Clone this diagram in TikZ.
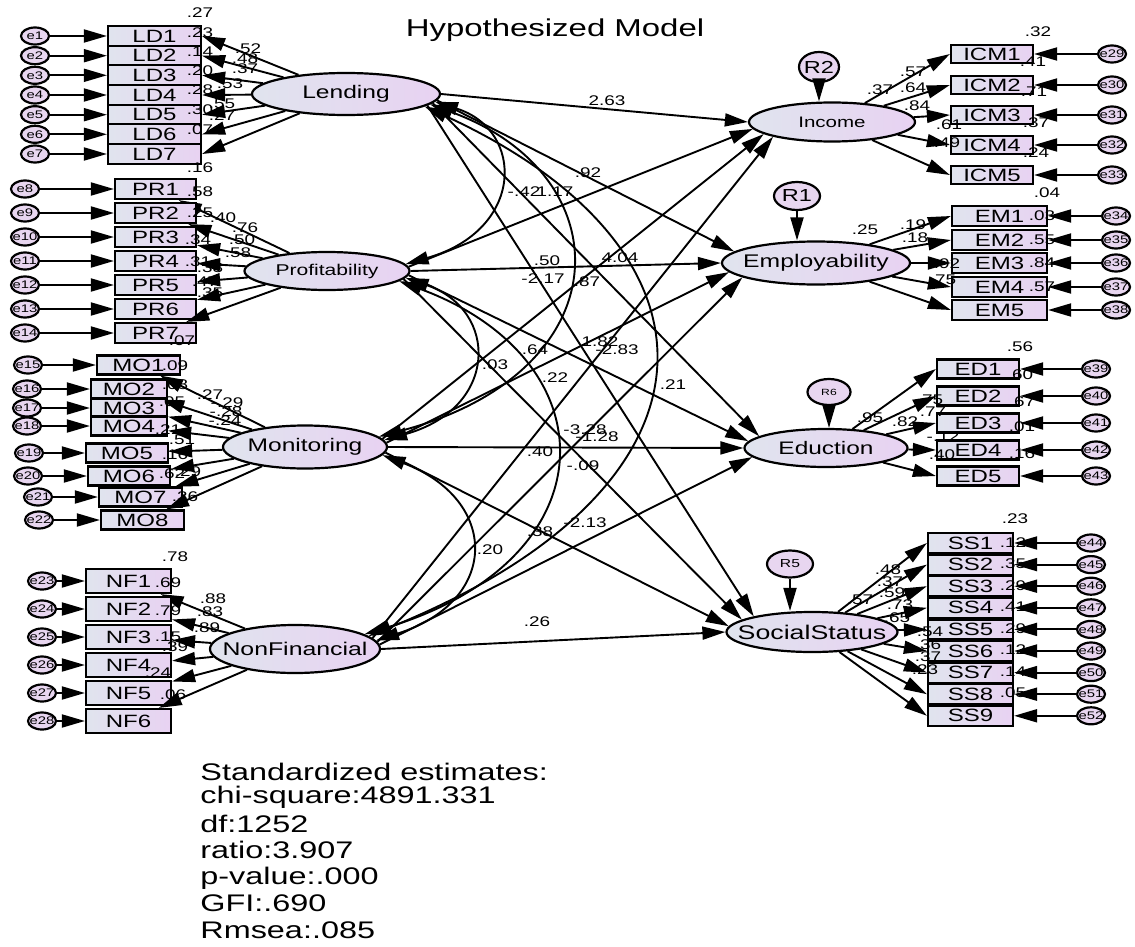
\documentclass[tikz,border=0pt]{standalone}
\usepackage{fontspec}
\setmainfont{Liberation Sans}[FakeStretch=1.35]
\usetikzlibrary{shapes.geometric,arrows.meta}
\definecolor{lc}{RGB}{224,228,238}
\definecolor{rc}{RGB}{232,210,242}
\definecolor{ec}{RGB}{232,214,240}
\newcommand{\fsz}[1]{\fontsize{#1}{#1}\selectfont}
\begin{document}
\begin{tikzpicture}[x=0.5pt,y=-0.5pt,
  arr/.style={line width=0.95pt,-{Triangle[length=11.5pt,width=6.5pt]}},
  cov/.style={line width=0.95pt,{Triangle[length=11.5pt,width=6.5pt]}-{Triangle[length=11.5pt,width=6.5pt]}},
  indbox/.style={draw,line width=1.1pt,left color=lc,right color=rc,inner sep=0pt,font=\fsz{8.9}},
  latent/.style n args={4}{ellipse,draw,line width=1.1pt,left color=lc,right color=rc,inner sep=0pt,
     minimum width=#1,minimum height=#2,label={[font=\fsz{#3},inner sep=0pt]center:#4}},
  err/.style={ellipse,draw,line width=1.1pt,fill=ec,inner sep=0pt,minimum width=14pt,minimum height=8.5pt,
     label={[font=\fsz{5.5},inner sep=0pt]center:#1}},
  resid/.style n args={4}{ellipse,draw,line width=1.1pt,fill=ec,inner sep=0pt,
     minimum width=#1,minimum height=#2,label={[font=\fsz{#3},inner sep=0pt]center:#4}},
  lbl/.style={inner sep=0pt,font=\fsz{7}},
]
\fill[white] (0,0) rectangle (1135,947);
\useasboundingbox (0,0) rectangle (1135,947);

\node[font=\fsz{12.2}] (title) at (555,30) {Hypothesized Model};

% latent variables
\node[latent={94pt}{21pt}{9.1}{Lending}] (L) at (346,94) {};
\node[latent={82.5pt}{19pt}{7.8}{Profitability}] (P) at (327,271) {};
\node[latent={82pt}{21.5pt}{9.1}{Monitoring}] (M) at (305,447) {};
\node[latent={85pt}{24pt}{9.2}{NonFinancial}] (NF) at (295,649) {};
\node[latent={83pt}{19.5pt}{7.6}{Income}] (I) at (832,122) {};
\node[latent={94pt}{21.5pt}{9.15}{Employability}] (EMP) at (816,263) {};
\node[latent={81.5pt}{19pt}{9.05}{Eduction}] (ED) at (826,448) {};
\node[latent={85.5pt}{20pt}{9.9}{SocialStatus}] (SS) at (812,632) {};

% residuals
\node[resid={20pt}{15pt}{8.7}{R2}] (R2) at (819,67) {};
\node[resid={23pt}{14pt}{8.7}{R1}] (R1) at (797,196) {};
\node[resid={21.5pt}{13pt}{4.5}{R6}] (R6) at (829,392) {};
\node[resid={23pt}{13.5pt}{5.8}{R5}] (R5) at (790,564) {};
\draw[arr] (R2) -- (R2 |- I.north);
\draw[arr] (R1) -- (R1 |- EMP.north);
\draw[arr] (R6) -- (R6 |- ED.north);
\draw[arr] (R5) -- (R5 |- SS.north);

% Lending indicators
\foreach \i/\y in {1/36,2/55.7,3/75.3,4/95,5/114.7,6/134.3,7/154}{
  \node[indbox,minimum width=46.5pt,minimum height=10pt] (LD\i) at (154.5,\y) {LD\i};
  \node[err={e\i}] (e\i) at (35,\y) {};
  \draw[arr] (e\i) -- (LD\i);
  \draw[arr] (L) -- (LD\i.east);
}
% Profitability indicators
\foreach \i/\y/\e in {1/189/8,2/213/9,3/237/10,4/261/11,5/285/12,6/309/13,7/333/14}{
  \node[indbox,minimum width=40.5pt,minimum height=10pt] (PR\i) at (155.5,\y) {PR\i};
  \node[err={e\e}] (e\e) at (25,\y) {};
  \draw[arr] (e\e) -- (PR\i);
  \draw[arr] (P) -- (PR\i);
}
% Monitoring indicators
\foreach \i/\x/\y/\w/\ex/\e in {1/138.5/365/41.5pt/28/15,2/129/389/38pt/27/16,3/129/408/38pt/27/17,
   4/129/426/38pt/27/18,5/127/453/41pt/29/19,6/129/476/41pt/28/20,7/140.5/497/41.5pt/38/21,8/142.5/520/41.5pt/39/22}{
  \node[indbox,minimum width=\w,minimum height=9.5pt] (MO\i) at (\x,\y) {MO\i};
  \node[err={e\e}] (e\e) at (\ex,\y) {};
  \draw[arr] (e\e) -- (MO\i);
  \draw[arr] (M) -- (MO\i);
}
% NonFinancial indicators
\foreach \i/\y/\e in {1/581/23,2/609/24,3/637/25,4/665/26,5/693/27,6/721/28}{
  \node[indbox,minimum width=42.5pt,minimum height=12pt] (NF\i) at (128.5,\y) {NF\i};
  \node[err={e\e}] (e\e) at (42,\y) {};
  \draw[arr] (e\e) -- (NF\i);
  \draw[arr] (NF) -- (NF\i);
}
% Income indicators
\foreach \i/\y/\e in {1/54/29,2/85/30,3/115/31,4/145/32,5/175/33}{
  \node[indbox,minimum width=41pt,minimum height=9pt] (ICM\i) at (992,\y) {ICM\i};
  \node[err={e\e}] (e\e) at (1112,\y) {};
  \draw[arr] (e\e) -- (ICM\i);
  \draw[arr] (I) -- (ICM\i.west);
}
% Employability indicators
\foreach \i/\y/\e in {1/216/34,2/240/35,3/263/36,4/287/37,5/310/38}{
  \node[indbox,minimum width=47.5pt,minimum height=10pt] (EM\i) at (999.5,\y) {EM\i};
  \node[err={e\e}] (e\e) at (1116,\y) {};
  \draw[arr] (e\e) -- (EM\i);
  \draw[arr] (EMP) -- (EM\i.west);
}
% Eduction indicators
\foreach \i/\y/\e in {1/369/39,2/396/40,3/423/41,4/450/42,5/476/43}{
  \node[indbox,minimum width=41pt,minimum height=9.5pt] (ED\i) at (978,\y) {ED\i};
  \node[err={e\e}] (e\e) at (1096,\y) {};
  \draw[arr] (e\e) -- (ED\i);
  \draw[arr] (ED) -- (ED\i.west);
}
% SocialStatus indicators
\foreach \i/\y/\e in {1/543/44,2/564.6/45,3/586.2/46,4/607.8/47,5/629.4/48,6/651/49,7/672.6/50,8/694.2/51,9/715.8/52}{
  \node[indbox,minimum width=42.5pt,minimum height=10pt] (SS\i) at (970.5,\y) {SS\i};
  \node[err={e\e}] (e\e) at (1091,\y) {};
  \draw[arr] (e\e) -- (SS\i);
  \draw[arr] (SS) -- (SS\i.west);
}

% structural paths
\draw[arr] (L.east) -- (I.180);
\draw[arr] (L.-4) -- (EMP.172);
\draw[arr] (L.-6) -- (ED.170);
\draw[arr] (L.-8) -- (SS.165);
\draw[arr] (P.3) -- (I.185);
\draw[arr] (P.0) -- (EMP.180);
\draw[arr] (P.-3) -- (ED.175);
\draw[arr] (P.-6) -- (SS.170);
\draw[arr] (M.6) -- (I.190);
\draw[arr] (M.3) -- (EMP.186);
\draw[arr] (M.0) -- (ED.180);
\draw[arr] (M.-4) -- (SS.176);
\draw[arr] (NF.8) -- (I.194);
\draw[arr] (NF.5) -- (EMP.191);
\draw[arr] (NF.3) -- (ED.187);
\draw[arr] (NF.0) -- (SS.180);

% covariances
\draw[cov] (L.-5) .. controls (525,130) and (525,230) .. (P.5);
\draw[cov] (L.-7) .. controls (624,175) and (624,372) .. (M.8);
\draw[cov] (L.-9) .. controls (737,250) and (737,487) .. (NF.10);
\draw[cov] (P.-5) .. controls (499,310) and (499,408) .. (M.5);
\draw[cov] (P.-8) .. controls (612,360) and (612,560) .. (NF.12);
\draw[cov] (M.-6) .. controls (500,500) and (500,601) .. (NF.6);

% estimates
\foreach \t/\x/\y [count=\k] in {
 .27/200/13,.23/200/33,.14/200/52,.20/200/71,.28/200/90,.30/200/110,.07/200/130,.16/200/168,
 .52/248/49,.48/245/59,.37/245/69,.53/230/84,.55/222/104,.27/222/116,
 .58/200/192,.25/200/213,.40/223/218,.76/245/228,.50/242/240,.58/238/253,.34/198/240,.31/198/262,
 .38/210/268,.47/205/282,.35/210/293,.07/182/341,
 .09/175/366,.08/175/385,.27/210/395,-.29/227/403,-.28/226/412,-.24/225/421,.05/172/402,.21/168/430,
 .51/182/440,.16/175/455,.62/172/474,.29/188/472,.36/185/497,
 .78/175/557,.69/168/583,.88/213/599,.83/210/612,.79/168/611,.89/207/628,.15/168/637,.39/175/647,
 .24/158/673,.06/173/695,
 .32/1038/32,.57/913/72,.37/880/90,.64/913/88,.84/917/106,.41/1033/62,.71/1034/92,.61/949/125,
 .37/1036/123,.49/947/143,.24/1036/153,.04/1047/193,
 .25/865/230,.19/913/225,.18/915/238,.03/1042/216,.55/1042/240,.84/1042/263,.57/1042/287,.92/947/264,.75/943/280,
 .56/1020/347,.60/1020/375,.67/1022/402,.01/1022/427,.16/1022/454,.75/930/400,.77/933/412,.95/870/418,
 .82/905/422,-.12/943/437,.40/942/455,
 .23/1015/519,.12/1013/543,.35/1013/564,.29/1013/586,.41/1013/607,.29/1013/629,.12/1013/650,.14/1013/672,
 .05/1013/693,.48/888/570,.37/890/582,.57/860/600,.59/892/593,.73/900/605,.65/897/618,.54/930/632,
 .36/928/645,.37/928/657,.23/925/670,
 2.63/607/101,.92/588/173,-.42/524/192,1.17/555/192,.50/547/261,4.04/620/258,-2.17/543/279,.87/587/282,
 .64/535/350,.03/495/365,1.82/600/342,-2.83/617/350,.22/555/378,.21/673/385,-3.28/585/430,-1.28/597/437,
 .40/540/452,-.09/583/466,-2.13/585/523,.38/540/532,.20/490/550,.26/537/622}{
  \node[lbl] (n\k) at (\x,\y) {\t};
}

% fit statistics
\foreach \t/\y [count=\k] in {Standardized estimates:/772,chi-square:4891.331/797,df:1252/824,
  ratio:3.907/850,p-value:.000/878,GFI:.690/903,Rmsea:.085/930}{
  \node[anchor=west,inner sep=0pt,font=\fsz{12}] (s\k) at (200,\y) {\t};
}
\end{tikzpicture}
\end{document}
